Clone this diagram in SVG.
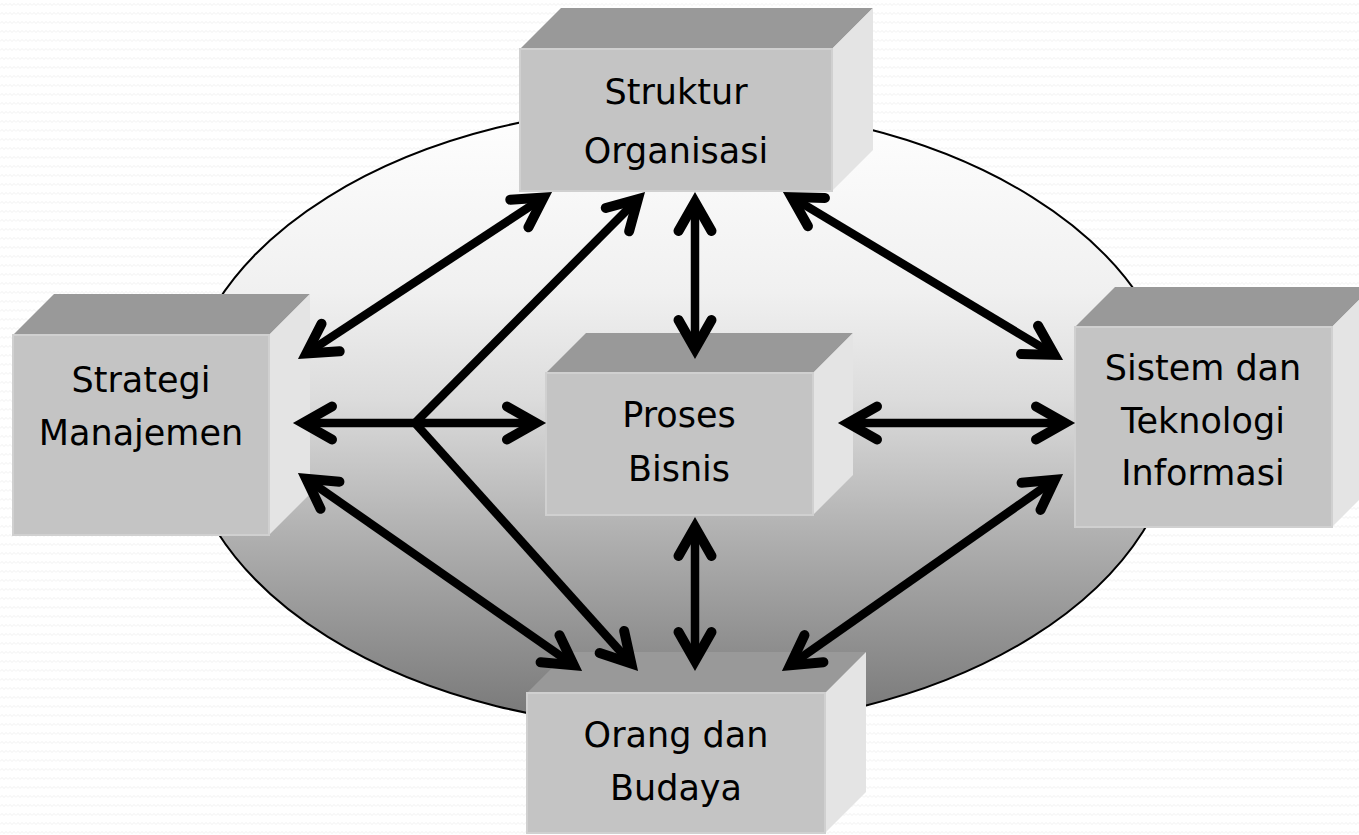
<svg xmlns="http://www.w3.org/2000/svg" width="1359" height="835" viewBox="0 0 1359 835">
<defs>
<pattern id="bg" width="8" height="9" patternUnits="userSpaceOnUse">
<rect width="8" height="9" fill="#ffffff"/>
<path d="M0 5.5 L2 3.5 L4 5.5 L6 3.5 L8 5.5" fill="none" stroke="#f1f1f1" stroke-width="1"/>
</pattern>
<linearGradient id="ellg" x1="0" y1="0" x2="0" y2="1">
<stop offset="0" stop-color="#ffffff"/>
<stop offset="0.3" stop-color="#f0f0f0"/>
<stop offset="0.47" stop-color="#dcdcdc"/>
<stop offset="0.69" stop-color="#b0b0b0"/>
<stop offset="1" stop-color="#767676"/>
</linearGradient>
<marker id="ah" markerUnits="userSpaceOnUse" markerWidth="100" markerHeight="100" refX="0" refY="0" orient="auto-start-reverse" overflow="visible">
<path d="M-29 -16.5 L0 0 L-29 16.5" fill="none" stroke="#000" stroke-width="10" stroke-linecap="round" stroke-linejoin="miter" stroke-miterlimit="10"/>
</marker>
<style>
.front{fill:#c4c4c4;stroke:#d0d0d0;stroke-width:2}
.top{fill:#999999}
.side{fill:#e4e4e4}
.lbl{font-family:"DejaVu Sans","Liberation Sans",sans-serif;font-size:35px;fill:#000;text-anchor:middle}
.con line{stroke:#000;stroke-width:8.5;stroke-linecap:butt}
.bi{marker-start:url(#ah);marker-end:url(#ah)}
.uni{marker-end:url(#ah)}
</style>
</defs>
<rect width="1359" height="835" fill="url(#bg)"/>
<ellipse cx="680" cy="417" rx="498" ry="311" fill="url(#ellg)" stroke="#000" stroke-width="2"/>

<g id="node-struktur">
<polygon class="top" points="520,49 561,8 873,8 832,49"/>
<polygon class="side" points="832,49 873,8 873,150 832,191"/>
<rect class="front" x="520" y="49" width="312" height="142"/>
<text class="lbl" x="676" y="104">Struktur</text>
<text class="lbl" x="676" y="163">Organisasi</text>
</g>

<g id="node-strategi">
<polygon class="top" points="13,335 54,294 310,294 269,335"/>
<polygon class="side" points="269,335 310,294 310,494 269,535"/>
<rect class="front" x="13" y="335" width="256" height="200"/>
<text class="lbl" x="141" y="392">Strategi</text>
<text class="lbl" x="141" y="445">Manajemen</text>
</g>

<g id="node-sistem">
<polygon class="top" points="1075,327 1115,287 1372,287 1332,327"/>
<polygon class="side" points="1332,327 1372,287 1372,487 1332,527"/>
<rect class="front" x="1075" y="327" width="257" height="200"/>
<text class="lbl" x="1203" y="380">Sistem dan</text>
<text class="lbl" x="1203" y="433">Teknologi</text>
<text class="lbl" x="1203" y="485">Informasi</text>
</g>

<g id="node-proses">
<polygon class="top" points="546,373 586,333 853,333 813,373"/>
<polygon class="side" points="813,373 853,333 853,475 813,515"/>
<rect class="front" x="546" y="373" width="267" height="142"/>
<text class="lbl" x="679" y="427">Proses</text>
<text class="lbl" x="679" y="481">Bisnis</text>
</g>

<g id="node-orang">
<polygon class="top" points="527,693 568,652 866,652 825,693"/>
<polygon class="side" points="825,693 866,652 866,792 825,833"/>
<rect class="front" x="527" y="693" width="298" height="140"/>
<text class="lbl" x="676" y="747">Orang dan</text>
<text class="lbl" x="676" y="800">Budaya</text>
</g>

<g id="connectors" class="con">
<line class="bi" x1="306.4" y1="353.5" x2="543.6" y2="197.5"/>
<line class="uni" x1="415" y1="423" x2="637.9" y2="199.1"/>
<line class="bi" x1="303" y1="423" x2="536" y2="423"/>
<line class="uni" x1="415" y1="423" x2="631.3" y2="663.6"/>
<line class="bi" x1="306.2" y1="478.7" x2="573.8" y2="665.3"/>
<line class="bi" x1="695" y1="202" x2="695" y2="349"/>
<line class="bi" x1="695" y1="527" x2="695" y2="661"/>
<line class="bi" x1="791.6" y1="197.1" x2="1054.4" y2="354.9"/>
<line class="bi" x1="848" y1="423" x2="1065" y2="423"/>
<line class="bi" x1="790.2" y1="665.3" x2="1054.8" y2="479.7"/>
</g>
</svg>
